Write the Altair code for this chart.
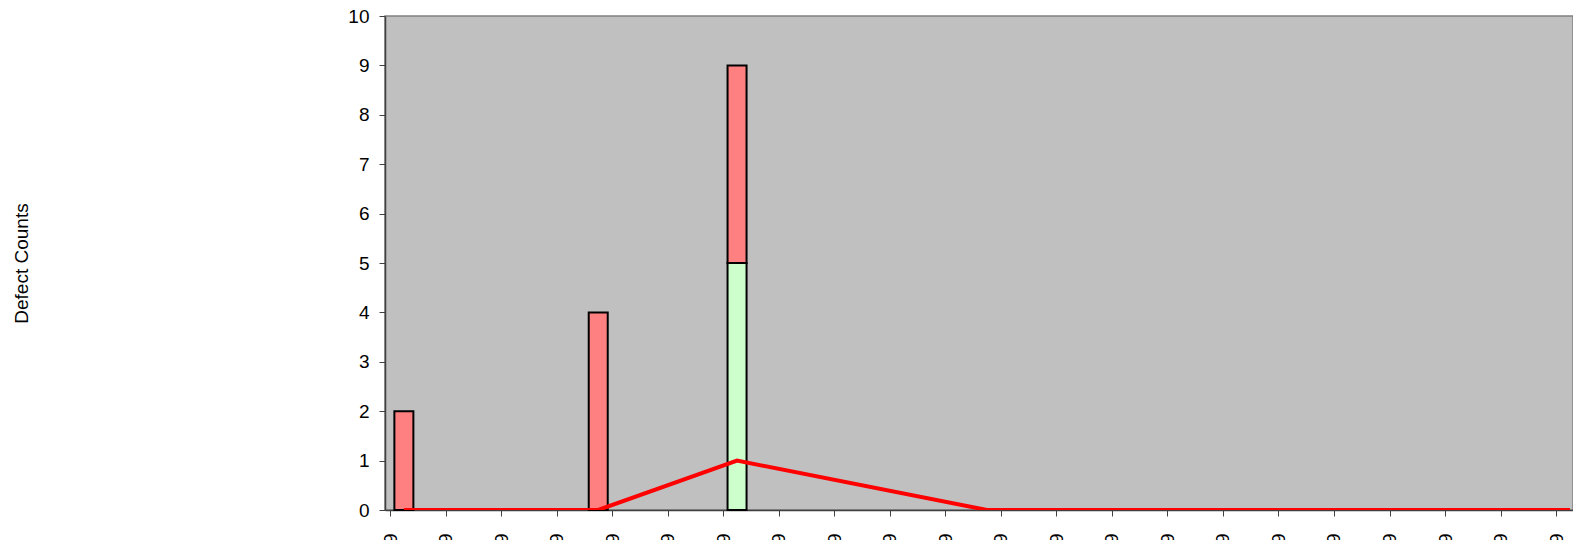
import altair as alt
import pandas as pd

# ---- data ----
days = [0, 7, 12, 21, 42]            # day offsets of the data points
red_counts = [2, 4, 4, 0, 0]         # upper (red) bar segment
green_counts = [0, 0, 5, 0, 0]       # lower (green) bar segment
line_counts = [0, 0, 1, 0, 0]        # red line series
tick_days = list(range(0, 43, 2))    # x ticks every 2 days
y_ticks = list(range(0, 11))

FONT = "Liberation Sans"
W = 1188
H = 494
DAYS_SPAN = W / 28.0

rows = []
for d, g, r in zip(days, green_counts, red_counts):
    if g:
        rows.append({"pos": d + 0.5, "series": "Green", "count": g, "ord": 0})
    if r:
        rows.append({"pos": d + 0.5, "series": "Red", "count": r, "ord": 1})
bars_df = pd.DataFrame(rows)
line_df = pd.DataFrame({"pos": [d + 0.5 for d in days], "count": line_counts})

xscale = alt.Scale(domain=[0, DAYS_SPAN], nice=False, zero=False)
yscale = alt.Scale(domain=[0, 10], nice=False)

xaxis = alt.Axis(
    values=tick_days,
    labelExpr="timeFormat(datetime(2009, 0, 5 + datum.value), '%d/%m/%Y')",
    labelAngle=270,
    labelAlign="right",
    labelBaseline="middle",
    labelPadding=17,
    labelFont=FONT,
    labelFontSize=19,
    labelColor="black",
    tickSize=6,
    tickColor="#404040",
    domainColor="#404040",
    domainWidth=1.5,
    grid=False,
    title=None,
    labelOverlap=False,
)
yaxis = alt.Axis(
    values=y_ticks,
    labelFont=FONT,
    labelFontSize=19,
    labelColor="black",
    labelPadding=10,
    tickSize=6,
    tickColor="#404040",
    domainColor="#404040",
    domainWidth=1.5,
    grid=False,
    title="Defect Counts",
    titleFont=FONT,
    titleFontSize=19,
    titleFontWeight="normal",
    titleColor="black",
    titleX=-364,
    titleY=H / 2,
    titleAngle=270,
    titleAlign="center",
    titleBaseline="middle",
)

bars = alt.Chart(bars_df).mark_bar(size=19, stroke="black", strokeWidth=2).encode(
    x=alt.X("pos:Q", scale=xscale, axis=xaxis),
    y=alt.Y("count:Q", stack="zero", scale=yscale, axis=yaxis),
    color=alt.Color("series:N",
                    scale=alt.Scale(domain=["Green", "Red"], range=["#CCFFCC", "#FF8080"]),
                    legend=None),
    order=alt.Order("ord:Q"),
)

line = alt.Chart(line_df).mark_line(color="#FF0000", strokeWidth=4, clip=True).encode(
    x=alt.X("pos:Q", scale=xscale),
    y=alt.Y("count:Q", scale=yscale),
)

chart = alt.layer(bars, line).properties(
    width=W,
    height=H,
    padding={"left": 377, "top": 8, "right": 0, "bottom": 30},
    autosize=alt.AutoSizeParams(type="none"),
).configure_view(
    fill="#C0C0C0",
    stroke="#808080",
    strokeWidth=1.5,
)

chart.save("out.html", embed_options={"renderer": "svg", "actions": False})
